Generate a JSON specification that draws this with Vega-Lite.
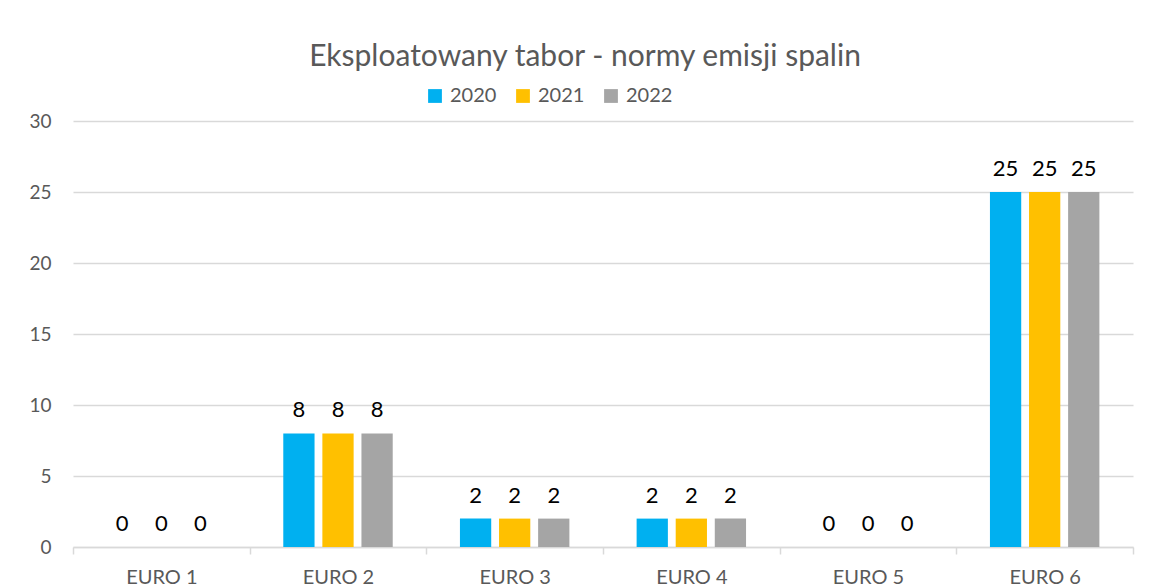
{
  "$schema": "https://vega.github.io/schema/vega-lite/v6.json",
  "autosize": "none",
  "width": 1060,
  "height": 426,
  "padding": {"left": 73, "top": 121, "right": 18, "bottom": 37},
  "background": "white",
  "config": {
    "view": {"stroke": null},
    "font": "Lato"
  },
  "title": {
    "text": "Eksploatowany tabor - normy emisji spalin",
    "font": "Lato",
    "fontSize": 30,
    "fontWeight": "normal",
    "color": "#595959",
    "anchor": "middle",
    "dx": -18,
    "offset": 14
  },
  "data": {
    "values": [
      {"norma": "EURO 1", "rok": "2020", "liczba": 0},
      {"norma": "EURO 1", "rok": "2021", "liczba": 0},
      {"norma": "EURO 1", "rok": "2022", "liczba": 0},
      {"norma": "EURO 2", "rok": "2020", "liczba": 8},
      {"norma": "EURO 2", "rok": "2021", "liczba": 8},
      {"norma": "EURO 2", "rok": "2022", "liczba": 8},
      {"norma": "EURO 3", "rok": "2020", "liczba": 2},
      {"norma": "EURO 3", "rok": "2021", "liczba": 2},
      {"norma": "EURO 3", "rok": "2022", "liczba": 2},
      {"norma": "EURO 4", "rok": "2020", "liczba": 2},
      {"norma": "EURO 4", "rok": "2021", "liczba": 2},
      {"norma": "EURO 4", "rok": "2022", "liczba": 2},
      {"norma": "EURO 5", "rok": "2020", "liczba": 0},
      {"norma": "EURO 5", "rok": "2021", "liczba": 0},
      {"norma": "EURO 5", "rok": "2022", "liczba": 0},
      {"norma": "EURO 6", "rok": "2020", "liczba": 25},
      {"norma": "EURO 6", "rok": "2021", "liczba": 25},
      {"norma": "EURO 6", "rok": "2022", "liczba": 25}
    ]
  },
  "encoding": {
    "x": {
      "field": "norma",
      "type": "nominal",
      "scale": {"paddingInner": 0, "paddingOuter": 0},
      "axis": {
        "title": null,
        "labelAngle": 0,
        "labelColor": "#595959",
        "labelFont": "Lato",
        "labelFontSize": 20,
        "labelPadding": 13,
        "domainColor": "#d9d9d9",
        "domainWidth": 1.5,
        "tickColor": "#d9d9d9",
        "tickWidth": 1.5,
        "tickSize": 7,
        "tickBand": "extent"
      }
    },
    "xOffset": {
      "field": "rok",
      "type": "nominal",
      "scale": {"paddingInner": 0.2, "paddingOuter": 0.86}
    },
    "y": {
      "field": "liczba",
      "type": "quantitative",
      "scale": {"domain": [0, 30]},
      "axis": {
        "title": null,
        "values": [0, 5, 10, 15, 20, 25, 30],
        "labelColor": "#595959",
        "labelFont": "Lato",
        "labelFontSize": 19,
        "labelPadding": 22,
        "ticks": false,
        "domain": false,
        "gridColor": "#d9d9d9",
        "gridWidth": 1.5
      }
    }
  },
  "layer": [
    {
      "mark": {"type": "bar"},
      "encoding": {
        "color": {
          "field": "rok",
          "type": "nominal",
          "scale": {"domain": ["2020", "2021", "2022"], "range": ["#00B0F0", "#FFC000", "#A5A5A5"]},
          "legend": {
            "title": null,
            "orient": "none",
            "direction": "horizontal",
            "legendX": 352,
            "legendY": -35,
            "symbolType": "square",
            "symbolSize": 190,
            "symbolStrokeWidth": 0,
            "labelColor": "#595959",
            "labelFont": "Lato",
            "labelFontSize": 20,
            "labelOffset": 5,
            "columnPadding": 16
          }
        }
      }
    },
    {
      "mark": {"type": "text", "baseline": "alphabetic", "dy": -16, "fontSize": 22, "font": "Lato", "color": "#000000"},
      "encoding": {
        "text": {"field": "liczba", "type": "quantitative"}
      }
    }
  ]
}
